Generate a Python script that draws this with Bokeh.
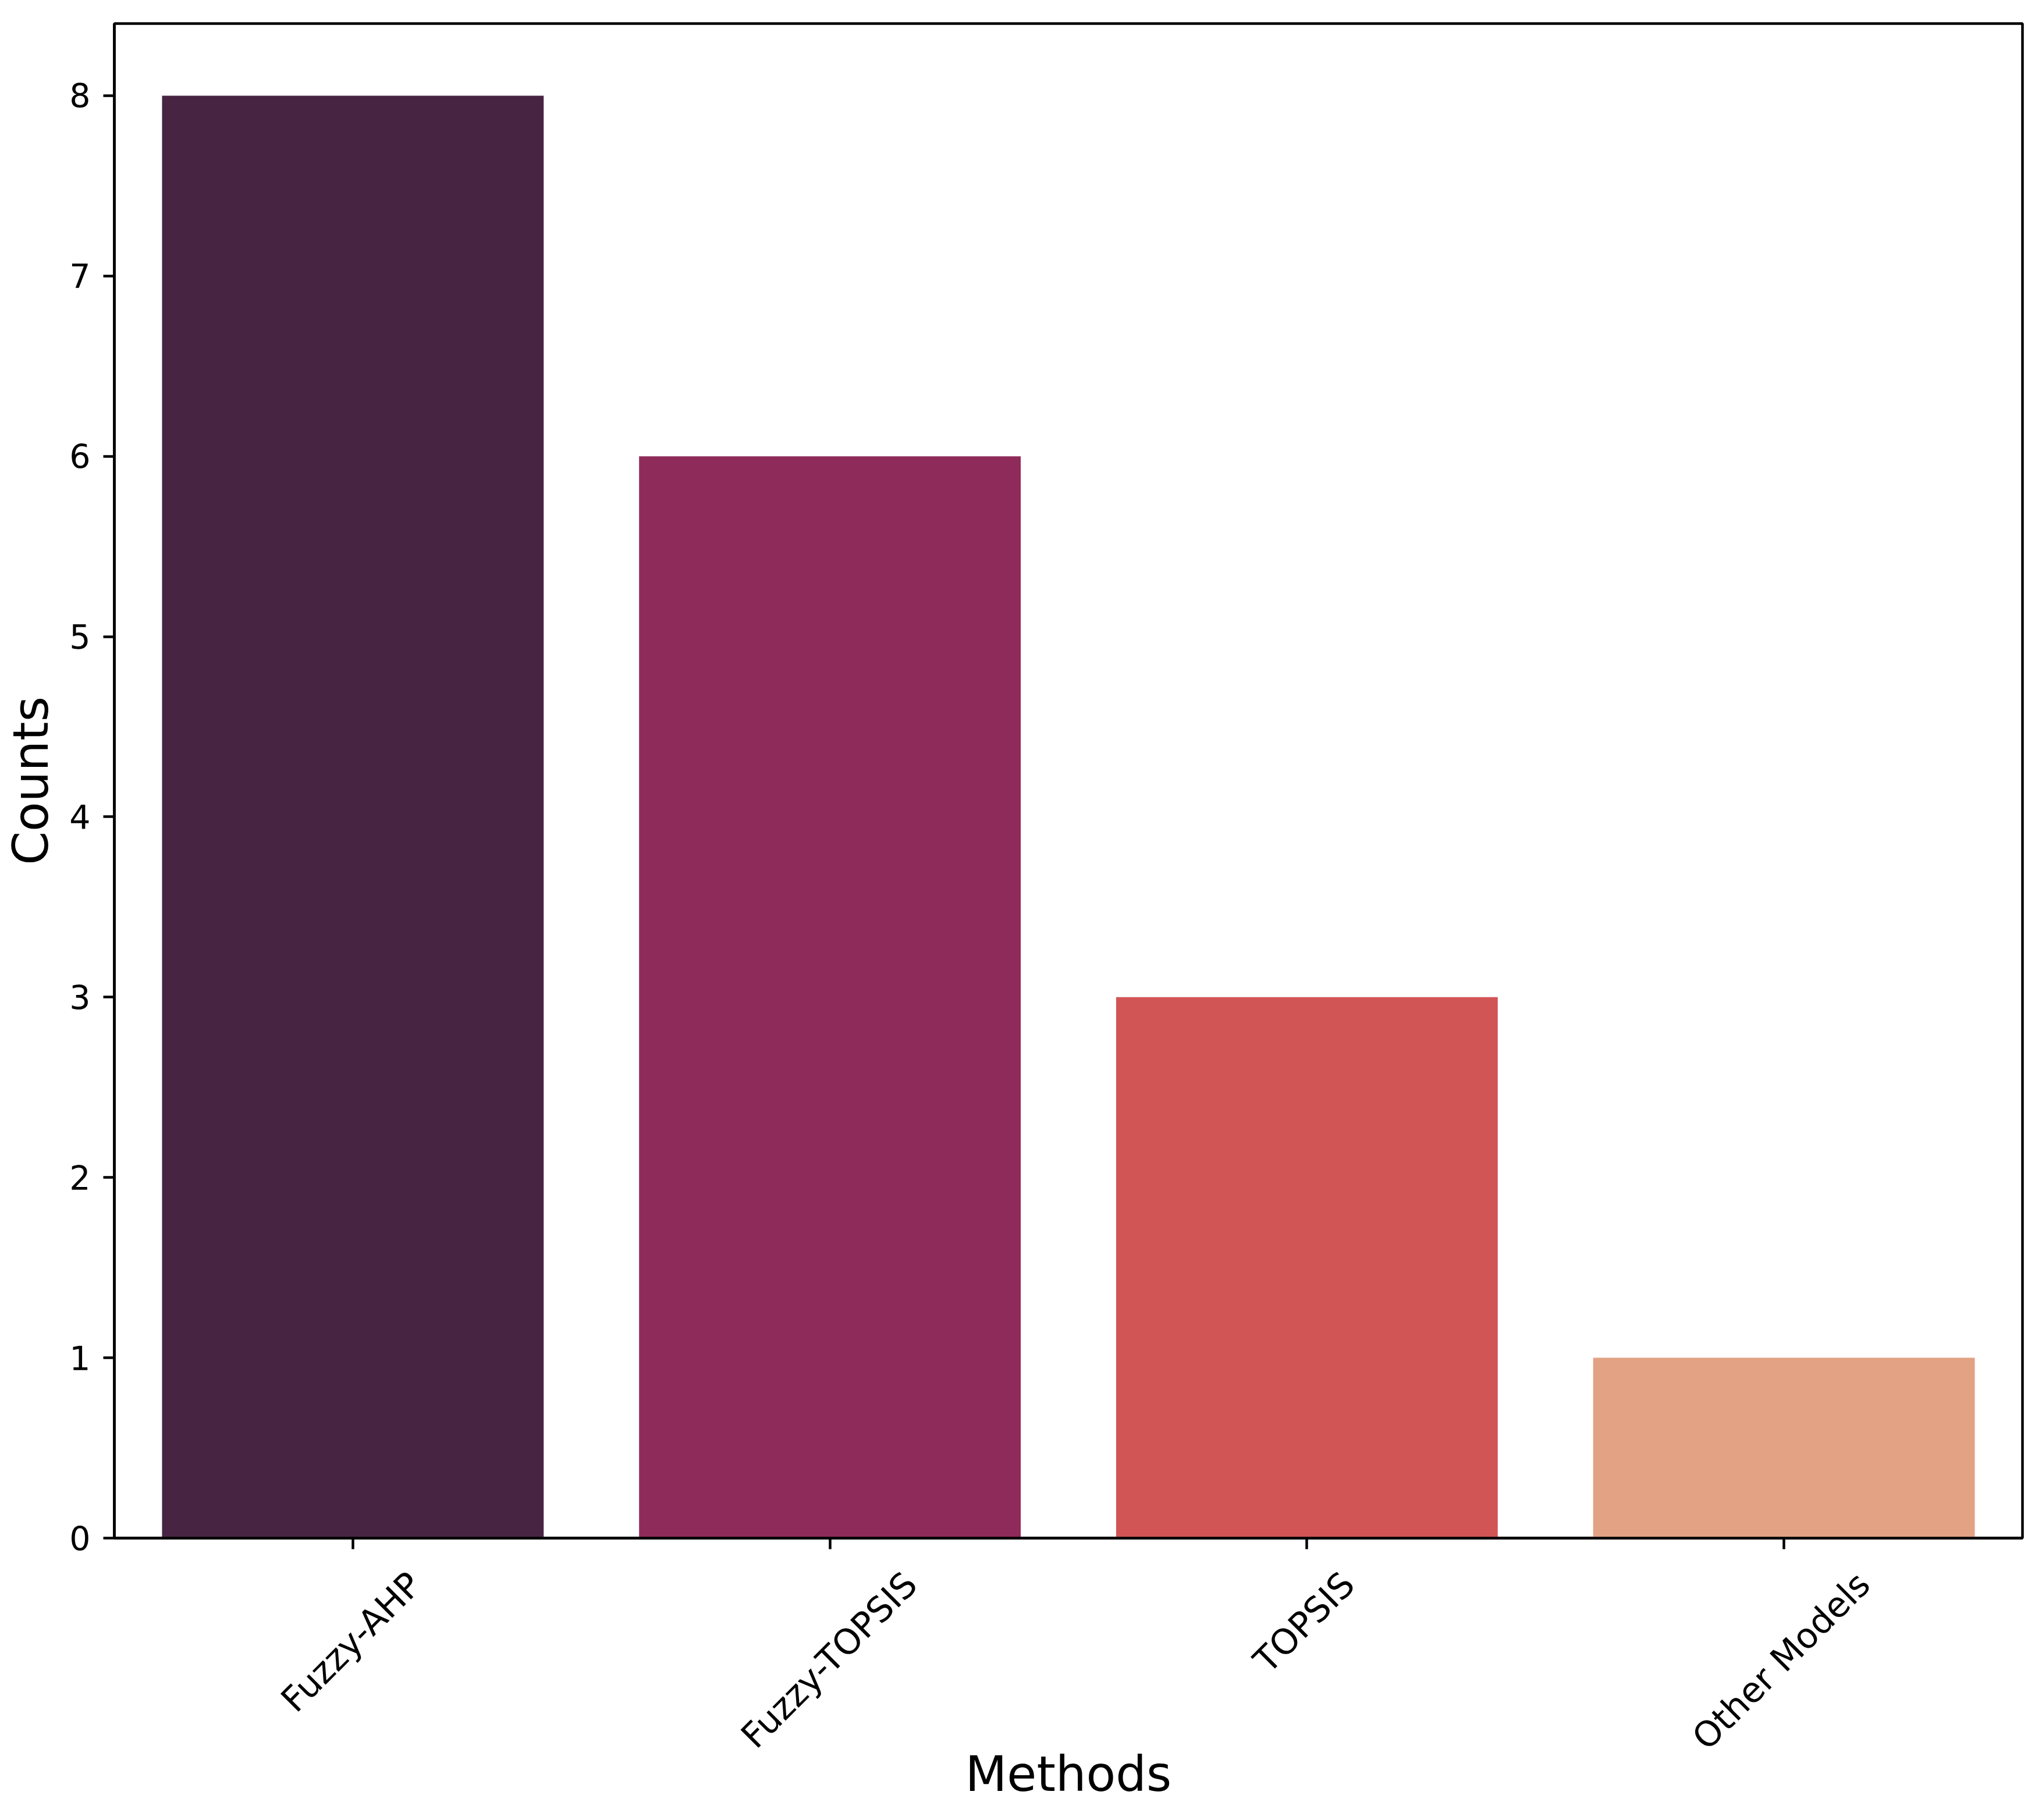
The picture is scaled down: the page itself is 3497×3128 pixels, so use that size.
import math
from bokeh.plotting import figure
from bokeh.models import Range1d, FixedTicker, LinearAxis
from bokeh.embed import file_html
from bokeh.resources import INLINE

# ---- data ----
methods = ["Fuzzy-AHP", "Fuzzy-TOPSIS", "TOPSIS", "Other Models"]
counts = [8, 6, 3, 1]
bar_colors = ["#482443", "#8F2B5A", "#D25556", "#E3A283"]
y_ticks = [0, 1, 2, 3, 4, 5, 6, 7, 8]

# ---- style ----
FONT = "DejaVu Sans"
YT = 57      # y tick label px
XT = 60      # x tick label px
AL = 83      # axis label px
LW = 4.5

# DejaVu Sans advance widths (em), used to centre the rotated labels under ticks
ADV = {"F": .575, "u": .634, "z": .525, "y": .592, "-": .361, "A": .684, "H": .752,
       "P": .603, "T": .611, "O": .787, "S": .635, "I": .295, "t": .392, "h": .634,
       "e": .615, "r": .411, " ": .318, "M": .863, "o": .612, "d": .635, "l": .278,
       "s": .521}


def text_w(s, size):
    return sum(ADV.get(c, 0.6) for c in s) * size


W, H = 3489, 3120
BL, BR, BT, BB = 196, 14, 40, 477
px_per_unit = (W - BL - BR) / len(methods)

p = figure(width=W, height=H, output_backend="svg", toolbar_location=None,
           x_range=Range1d(-0.5, len(methods) - 0.5),
           y_range=Range1d(0, max(counts) * 1.05),
           min_border_left=BL, min_border_right=BR, min_border_top=BT,
           min_border_bottom=BB)
p.background_fill_color = "white"
p.border_fill_color = "white"
p.outline_line_color = "black"
p.outline_line_width = LW
p.outline_line_alpha = 1.0
p.xgrid.visible = False
p.ygrid.visible = False

p.vbar(x=list(range(len(methods))), top=counts, width=0.8, bottom=0,
       fill_color=bar_colors, line_color=None)

# y axis
ya = p.yaxis[0]
ya.ticker = FixedTicker(ticks=y_ticks)
ya.axis_label = "Counts"
ya.axis_label_text_font = FONT
ya.axis_label_text_font_size = f"{AL}px"
ya.axis_label_text_font_style = "normal"
ya.axis_label_text_color = "black"
ya.axis_label_standoff = 14
ya.major_label_text_font = FONT
ya.major_label_text_font_size = f"{YT}px"
ya.major_label_text_color = "black"
ya.major_label_standoff = 22
ya.major_tick_out = 19
ya.major_tick_in = 0
ya.major_tick_line_width = LW
ya.major_tick_line_color = "black"
ya.minor_tick_line_color = None
ya.axis_line_width = LW
ya.axis_line_color = "black"

# x axis 1: tick marks only
xa = p.xaxis[0]
xa.ticker = FixedTicker(ticks=list(range(len(methods))))
xa.major_label_overrides = {i: "" for i in range(len(methods))}
xa.major_label_text_font_size = "0px"
xa.major_label_standoff = 0
xa.major_tick_out = 19
xa.major_tick_in = 0
xa.major_tick_line_width = LW
xa.major_tick_line_color = "black"
xa.minor_tick_line_color = None
xa.axis_line_width = LW
xa.axis_line_color = "black"

# x axis 2: rotated category names, each anchor moved so the label is centred on its tick
label_pos = []
for i, name in enumerate(methods):
    shift_px = text_w(name, XT) / (2 * math.sqrt(2)) - 5
    label_pos.append(i + shift_px / px_per_unit)
xa2 = LinearAxis(ticker=FixedTicker(ticks=label_pos),
                 major_label_overrides={pos: name for pos, name in zip(label_pos, methods)},
                 major_label_orientation=math.pi / 4,
                 major_label_text_font=FONT,
                 major_label_text_font_size=f"{XT}px",
                 major_label_text_color="black",
                 major_label_standoff=50,
                 major_tick_out=0, major_tick_in=0,
                 major_tick_line_color=None, minor_tick_line_color=None,
                 axis_line_color=None,
                 axis_label="Methods",
                 axis_label_text_font=FONT,
                 axis_label_text_font_size=f"{AL}px",
                 axis_label_text_font_style="normal",
                 axis_label_text_color="black",
                 axis_label_standoff=-47)
p.add_layout(xa2, "below")

open("out.html", "w").write(file_html(p, INLINE))
